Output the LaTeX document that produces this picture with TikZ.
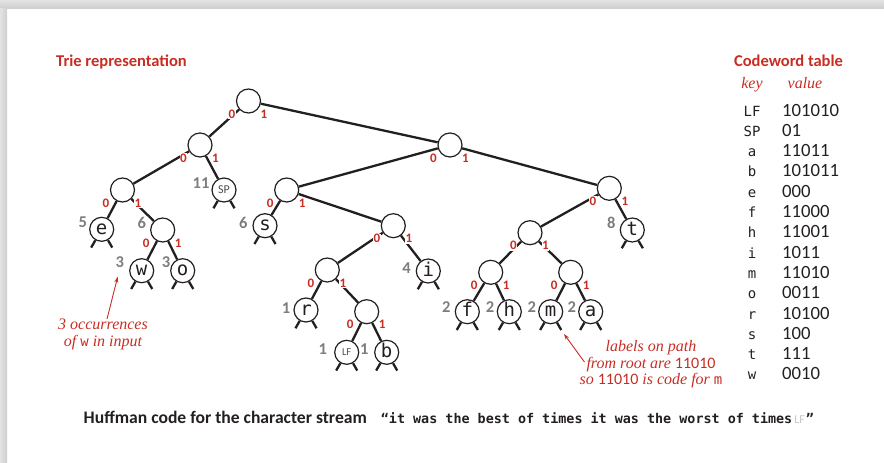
\documentclass[tikz,border=0pt]{standalone}
\usepackage{fontspec}
\usetikzlibrary{arrows.meta}

\newfontfamily\headfont{Carlito}
\newfontfamily\codefont{DejaVu Sans Mono}
\newfontfamily\notefont{Liberation Serif}

\definecolor{bookred}{RGB}{200,45,35}
\definecolor{wtgray}{RGB}{125,125,125}
\definecolor{ink}{RGB}{35,31,32}

\begin{document}
\begin{tikzpicture}[
  x=1pt, y=1pt,
  inner/.style={circle, draw=ink, line width=1.2pt, fill=white, minimum size=24pt, inner sep=0pt},
  leaf/.style={inner, text=ink, text height=10.2pt, text depth=0pt,
               font=\codefont\fontsize{19}{19}\selectfont},
  ctrl/.style={inner, text=ink!80, font=\headfont\fontsize{12}{12}\selectfont},
  edge/.style={draw=ink, line width=2.3pt},
  bit/.style={text=bookred, fill=white, inner sep=0.6pt, font=\headfont\bfseries\fontsize{13}{13}\selectfont},
  wt/.style={text=wtgray, inner sep=0pt, text height=10.5pt, text depth=0pt,
             font=\headfont\bfseries\fontsize{16.5}{16.5}\selectfont},
  heading/.style={text=bookred, inner sep=0pt, font=\headfont\bfseries\fontsize{16.5}{16.5}\selectfont},
  note/.style={text=bookred, align=center, inner sep=0pt, font=\notefont\itshape\fontsize{16}{16.5}\selectfont},
  keycell/.style={text=ink, inner sep=0pt, anchor=base, font=\codefont\fontsize{14}{14}\selectfont},
  valcell/.style={text=ink, inner sep=0pt, anchor=base west, font=\headfont\fontsize{18.7}{18.7}\selectfont},
  pointer/.style={draw=bookred, line width=0.9pt, -{Stealth[length=6pt,width=4pt]}}
]
\useasboundingbox (0,0) rectangle (884,-463);
\shade[top color=gray!22, bottom color=gray!38] (0,0) rectangle (884,-8);
\shade[left color=gray!22, right color=gray!38] (0,-8) rectangle (7,-463);

\node[heading, anchor=base west] (trietitle) at (56,-66) {Trie representation};

% trie
\node[inner] (root) at (248.5,-101) {};
\node[inner] (n0) at (200,-145) {};
\node[inner] (n00) at (122.5,-190) {};
\node[ctrl] (sp) at (224,-190) {SP};
\node[leaf] (e) at (101.7,-229.3) {e};
\node[inner] (n001) at (162.7,-230) {};
\node[leaf] (w) at (141.7,-270.7) {w};
\node[leaf] (o) at (182.7,-270.7) {o};
\node[inner] (n1) at (450,-145) {};
\node[inner] (n10) at (286.7,-190) {};
\node[leaf] (s) at (265,-225.7) {s};
\node[inner] (n101) at (393.3,-225.7) {};
\node[leaf] (i) at (428.3,-271) {i};
\node[inner] (n1010) at (327.3,-270) {};
\node[leaf] (r) at (306,-310) {r};
\node[inner] (n10101) at (366.7,-311.7) {};
\node[ctrl, font=\headfont\fontsize{10.5}{10.5}\selectfont] (lf) at (346.7,-352.3) {LF};
\node[leaf] (b) at (386.7,-352.3) {b};
\node[inner] (n11) at (609.3,-188.3) {};
\node[leaf] (t) at (632.3,-230) {t};
\node[inner] (n110) at (530,-232.7) {};
\node[inner] (n1100) at (490.7,-272.3) {};
\node[inner] (n1101) at (570.7,-272.3) {};
\node[leaf] (f) at (467.3,-311.7) {f};
\node[leaf] (h) at (509.3,-311.7) {h};
\node[leaf] (m) at (550.7,-311.7) {m};
\node[leaf] (a) at (590.7,-311.7) {a};

\foreach \p/\c in {root/n0, root/n1, n0/n00, n0/sp, n00/e, n00/n001, n001/w, n001/o,
                   n1/n10, n1/n11, n10/s, n10/n101, n101/n1010, n101/i, n1010/r,
                   n1010/n10101, n10101/lf, n10101/b, n11/n110, n11/t, n110/n1100,
                   n110/n1101, n1100/f, n1100/h, n1101/m, n1101/a}
  \draw[edge] (\p) -- (\c);

% null links under the leaves
\foreach \n in {sp, e, w, o, s, i, r, lf, b, t, f, h, m, a}
  \draw[edge] (\n.-120) -- ++(-120:8.5) (\n.-60) -- ++(-60:8.5);

\foreach \n in {root, n0, n00, n001, n1, n10, n101, n1010, n10101, n11, n110, n1100, n1101} {
  \node[bit] at ([shift={(-16.5,-13)}]\n) {0};
  \node[bit] at ([shift={(15.5,-13)}]\n) {1};
}

% frequencies
\foreach \n/\f/\dx/\dy in {sp/11/-23/7, e/5/-19/6.6, n001/6/-21/7, w/3/-22/8, o/3/-16.7/8,
                           s/6/-21.7/2.4, i/4/-21.7/2.7, t/8/-21/7, r/1/-20/2, lf/1/-24/3,
                           b/1/-22.4/3, f/2/-21/4, h/2/-19.3/4, m/2/-19/4, a/2/-19/4}
  \node[wt] (freq-\n) at ([shift={(\dx,\dy)}]\n) {\f};

\node[note] (occnote) at (103,-334.5) {3 occurrences\\of {\upshape\codefont\fontsize{14}{16.5}\selectfont w} in input};
\coordinate (wmark) at (117.7,-276.7);
\draw[pointer] ([xshift=4pt]occnote.north) -- (wmark);

\node[note] (pathnote) at (651,-364.5) {labels on path\\from root are {\upshape\headfont\fontsize{16}{16.5}\selectfont 11010}\\so {\upshape\headfont\fontsize{16}{16.5}\selectfont 11010} is code for {\upshape\codefont\fontsize{14}{16.5}\selectfont m}};
\coordinate (mmark) at (564,-334);
\draw[pointer] ([shift={(5pt,2.5pt)}]pathnote.west) -- (mmark);

% codeword table
\node[heading, anchor=base] (tabletitle) at (788.5,-66) {Codeword table};
\node[note, anchor=base] (keyhead) at (752,-88) {key};
\node[note, anchor=base] (valhead) at (805,-88) {value};
\foreach \k/\v [count=\j from 0] in {LF/101010, SP/01, a/11011, b/101011, e/000, f/11000,
                                     h/11001, i/1011, m/11010, o/0011, r/10100, s/100, t/111, w/0010} {
  \node[keycell] (key\j) at (752,{-116-20.3*\j}) {\k};
  \node[valcell] (val\j) at (782,{-116-20.3*\j}) {\v};
}

\node[anchor=base west, inner sep=0pt, text=ink] (caption) at (83.5,-423)
  {{\headfont\bfseries\fontsize{17.6}{17.6}\selectfont Huffman code for the character stream}\hspace{14pt}%
   {\codefont\bfseries\fontsize{13.4}{13.4}\selectfont “it was the best of times it was the worst of times}%
   \hspace{2pt}{\headfont\fontsize{12}{12}\selectfont\color{gray!45}LF}\hspace{1pt}{\codefont\bfseries\fontsize{13.4}{13.4}\selectfont ”}};
\end{tikzpicture}
\end{document}
